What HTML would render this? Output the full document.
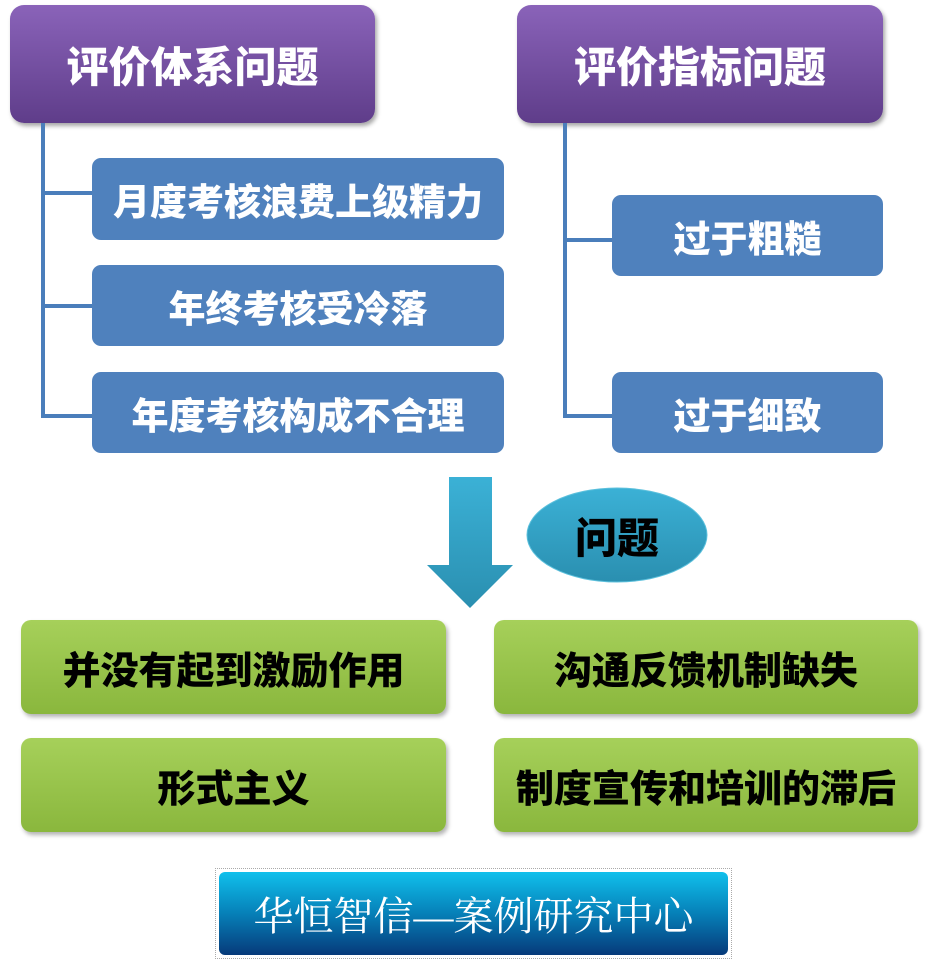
<!DOCTYPE html>
<html><head><meta charset="utf-8"><style>
body{margin:0;width:927px;height:960px;background:#fff;position:relative;overflow:hidden;font-family:"Liberation Sans","Noto Sans CJK SC",sans-serif}
.b{position:absolute;display:flex;align-items:center;justify-content:center;font-weight:900;box-sizing:border-box;white-space:nowrap}
.p{background:linear-gradient(#8a63b9,#5f3d8a);color:#fff;font-size:42px;border-radius:14px;box-shadow:2px 3px 4px rgba(0,0,0,.35)}
.u{background:#4f81bd;color:#fff;font-size:37px;border-radius:9px}
.g{background:linear-gradient(#a6d05a,#8ab73d);color:#000;font-size:38px;border-radius:10px;box-shadow:2px 3px 4px rgba(0,0,0,.3)}
.l{position:absolute;background:#4a7ebb}
</style></head><body>
<div class="b p" style="left:10px;top:5px;width:365px;height:118px">评价体系问题</div>
<div class="b p" style="left:517px;top:5px;width:366px;height:118px">评价指标问题</div>
<div class="l" style="left:41px;top:123px;width:4px;height:295px"></div>
<div class="l" style="left:41px;top:191px;width:52px;height:4px"></div>
<div class="l" style="left:41px;top:304px;width:52px;height:4px"></div>
<div class="l" style="left:41px;top:414px;width:52px;height:4px"></div>
<div class="l" style="left:563px;top:123px;width:4px;height:295px"></div>
<div class="l" style="left:563px;top:238px;width:50px;height:4px"></div>
<div class="l" style="left:563px;top:414px;width:50px;height:4px"></div>
<div class="b u" style="left:92px;top:158px;width:412px;height:82px">月度考核浪费上级精力</div>
<div class="b u" style="left:92px;top:265px;width:412px;height:81px">年终考核受冷落</div>
<div class="b u" style="left:92px;top:372px;width:412px;height:81px">年度考核构成不合理</div>
<div class="b u" style="left:612px;top:195px;width:271px;height:81px">过于粗糙</div>
<div class="b u" style="left:612px;top:372px;width:271px;height:81px">过于细致</div>
<svg style="position:absolute;left:0;top:0" width="927" height="960">
<defs><linearGradient id="a" x1="0" y1="0" x2="0" y2="1"><stop offset="0" stop-color="#3bb1d6"/><stop offset="1" stop-color="#2a8fb0"/></linearGradient></defs>
<polygon points="449,477 492,477 492,565 513,565 470,608 427,565 449,565" fill="url(#a)"/>
<ellipse cx="617" cy="535" rx="90" ry="47" fill="url(#a)" stroke="#5cc0dc" stroke-width="1"/>
</svg>
<div class="b" style="left:527px;top:488px;width:180px;height:95px;font-size:42px;color:#000">问题</div>
<div class="b g" style="left:21px;top:620px;width:425px;height:94px">并没有起到激励作用</div>
<div class="b g" style="left:494px;top:620px;width:424px;height:94px">沟通反馈机制缺失</div>
<div class="b g" style="left:21px;top:738px;width:425px;height:94px">形式主义</div>
<div class="b g" style="left:494px;top:738px;width:424px;height:94px">制度宣传和培训的滞后</div>
<div class="b" style="left:215px;top:868px;width:517px;height:91px;border:1px dotted #aaa;padding:3px">
<div class="b" style="position:static;width:100%;height:100%;border-radius:6px;background:linear-gradient(#10c0ec,#0680b8 50%,#063a7a);color:#fff;font-weight:normal;font-family:'Liberation Serif','Noto Serif CJK SC',serif;font-size:40px">华恒智信—案例研究中心</div>
</div>
</body></html>
